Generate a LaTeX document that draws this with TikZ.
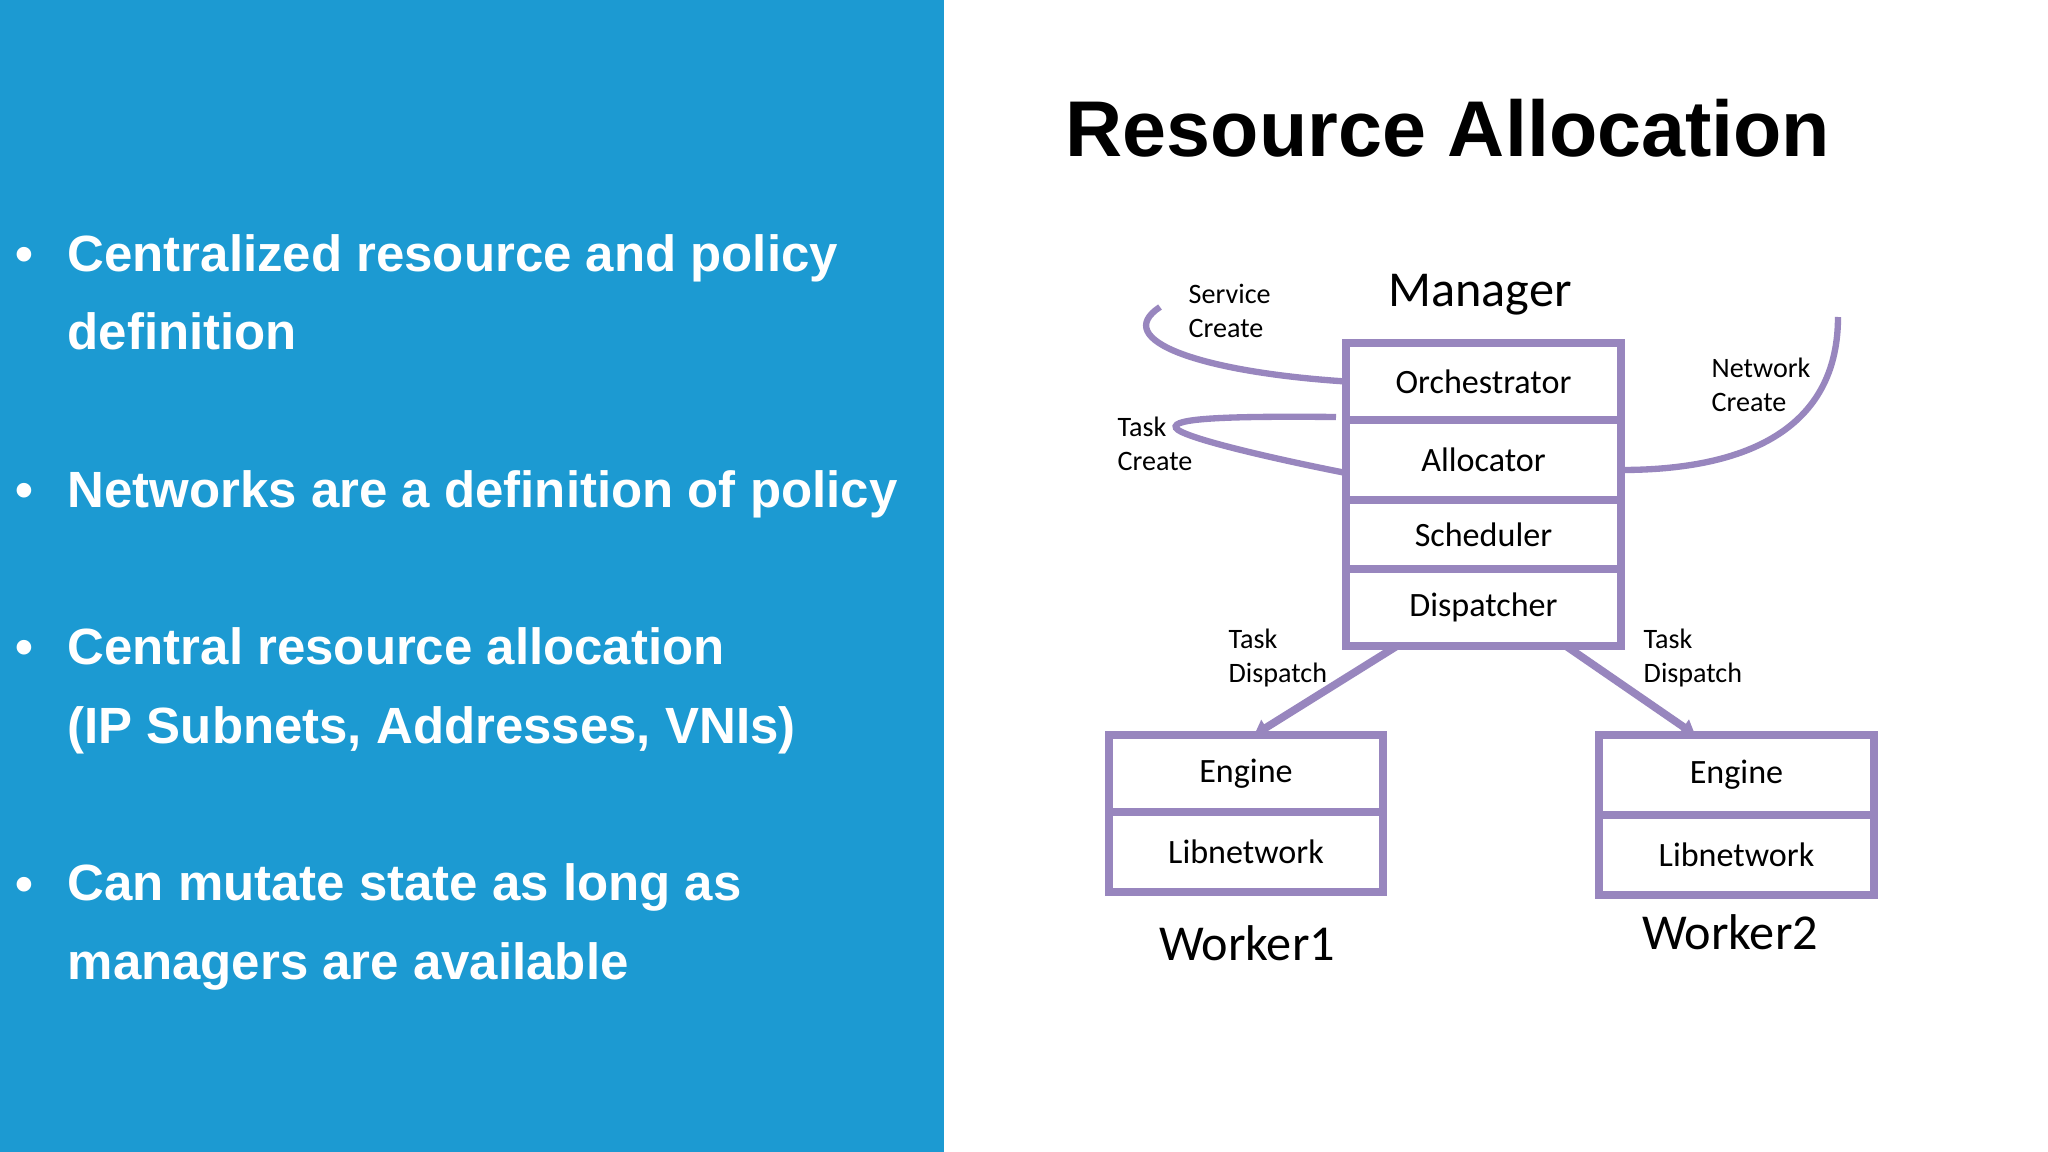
\documentclass[tikz,border=0pt]{standalone}
\usepackage{fontspec}
\setmainfont{Liberation Sans}
\newfontfamily\calfont{Carlito}
\usetikzlibrary{arrows.meta, positioning, calc}
\definecolor{slideblue}{RGB}{28,154,210}
\definecolor{lavender}{RGB}{152,134,190}

\begin{document}
\begin{tikzpicture}[>={Triangle[width=5pt,length=4pt]}, every node/.style={align=left, inner sep=0pt},
    layer/.style={draw=lavender, line width=2pt, fill=white, outer sep=0pt, minimum width=2.75cm, align=center, font=\calfont\fontsize{9.7}{11}\selectfont},
    note/.style={anchor=west, font=\calfont\fontsize{8}{9.7}\selectfont},
    big/.style={anchor=base, font=\calfont\fontsize{14.3}{16}\selectfont},
    point/.style={anchor=base west, text=white, font=\bfseries\fontsize{14.5}{22.2}\selectfont},
    flow/.style={draw=lavender, line width=1.8pt}]
    \useasboundingbox ({0},{0}) rectangle ({20.48},{-11.52});
    \fill[white] ({0},{0}) rectangle ({20.48},{-11.52});
    \fill[slideblue] ({0},{0}) rectangle ({9.44},{-11.52});

    % left panel (base = last line)
    \node[point, anchor=base] (d1) at ({0.24},{-2.72}) {•};
    \node[point] (b1) at ({0.67},{-3.50}) {Centralized resource and policy\\definition};
    \node[point, anchor=base] (d2) at ({0.24},{-5.08}) {•};
    \node[point] (b2) at ({0.67},{-5.08}) {Networks are a definition of policy};
    \node[point, anchor=base] (d3) at ({0.24},{-6.65}) {•};
    \node[point] (b3) at ({0.67},{-7.43}) {Central resource allocation\\(IP Subnets, Addresses, VNIs)};
    \node[point, anchor=base] (d4) at ({0.24},{-9.01}) {•};
    \node[point] (b4) at ({0.67},{-9.79}) {Can mutate state as long as\\managers are available};

    \node[anchor=base, font=\bfseries\fontsize{22.5}{27}\selectfont] (title) at ({14.48},{-1.57}) {Resource Allocation};

    % manager
    \node[big] (mgr) at ({14.80},{-3.07}) {Manager};
    \node[layer, minimum height=0.77cm] (orch) at ({14.835},{-3.815}) {Orchestrator};
    \node[layer, minimum height=0.80cm, below=0pt of orch] (alloc) {Allocator};
    \node[layer, minimum height=0.69cm, below=0pt of alloc] (sched) {Scheduler};
    \node[layer, minimum height=0.77cm, below=0pt of sched] (disp) {Dispatcher};

    % workers
    \node[layer, minimum width=2.74cm, minimum height=0.77cm] (eng1) at ({12.46},{-7.735}) {Engine};
    \node[layer, minimum width=2.74cm, minimum height=0.80cm, below=0pt of eng1] (lib1) {Libnetwork};
    \node[big] (wk1) at ({12.47},{-9.60}) {Worker1};
    \node[layer, minimum height=0.80cm] (eng2) at ({17.365},{-7.75}) {Engine};
    \node[layer, minimum height=0.80cm, below=0pt of eng2] (lib2) {Libnetwork};
    \node[big] (wk2) at ({17.30},{-9.49}) {Worker2};

    % labels
    \node[note] (svc) at ({11.88},{-3.11}) {Service\\Create};
    \node[note] (tsk) at ({11.17},{-4.44}) {Task\\Create};
    \node[note] (net) at ({17.11},{-3.85}) {Network\\Create};
    \node[note] (tdl) at ({12.28},{-6.58}) {Task\\Dispatch};
    \node[note] (tdr) at ({16.43},{-6.58}) {Task\\Dispatch};

    % flows
    \coordinate (svcEnd) at ({11.60},{-3.07});
    \coordinate (taskTop) at ({13.36},{-4.17});
    \coordinate (netTop) at ({18.38},{-3.17});
    \draw[flow] (orch.west) .. controls ({12.0},{-3.72}) and ({11.10},{-3.40}) .. (svcEnd);
    \draw[flow] (taskTop) .. controls ({12.3},{-4.16}) and ({11.70},{-4.18}) .. ({11.76},{-4.28})
        .. controls ({11.82},{-4.38}) and ({12.8},{-4.60}) .. ($(alloc.west)+(0,-0.13)$);
    \draw[flow] ($(alloc.east)+(0,-0.1)$) .. controls ({17.6},{-4.70}) and ({18.38},{-4.20}) .. (netTop);
    \draw[flow, ->, line width=2.2pt] ($(disp.south west)!0.185!(disp.south east)$) -- ($(eng1.north west)!0.53!(eng1.north east)$);
    \draw[flow, ->, line width=2.2pt] ($(disp.south west)!0.80!(disp.south east)$) -- ($(eng2.north west)!0.35!(eng2.north east)$);
\end{tikzpicture}
\end{document}
